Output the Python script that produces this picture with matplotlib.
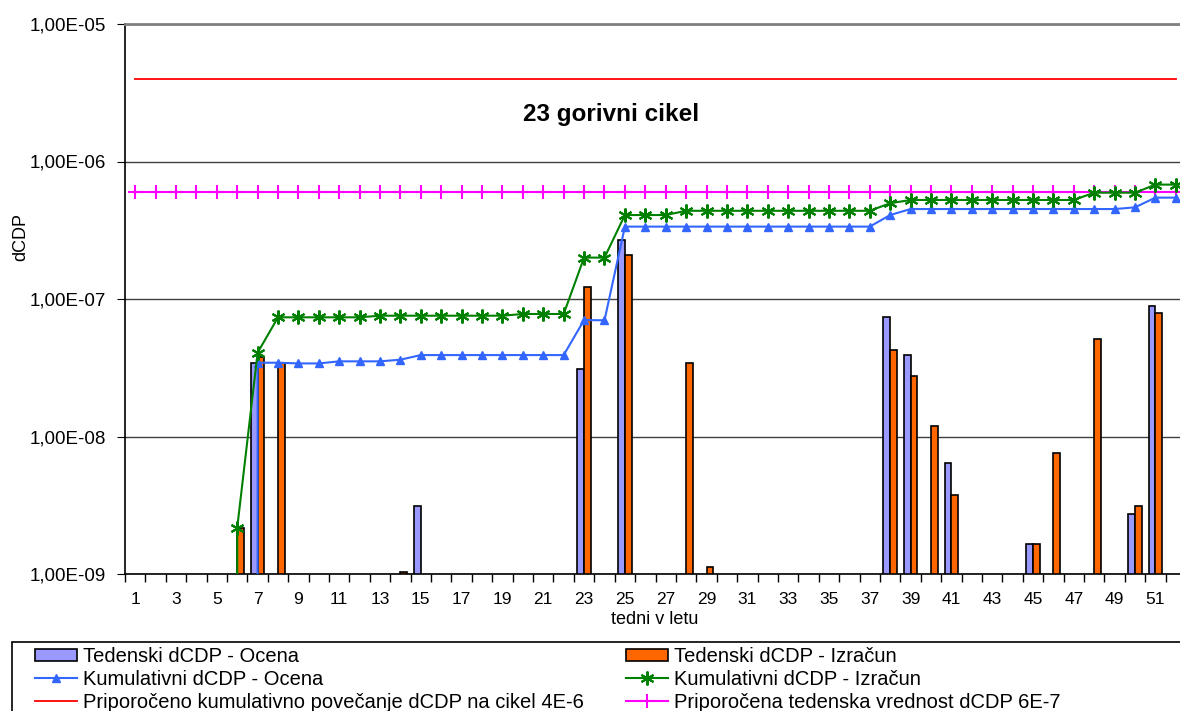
import numpy as np
import matplotlib
matplotlib.use("Agg")
import matplotlib.pyplot as plt
from matplotlib.ticker import FixedLocator, NullLocator, FuncFormatter
from matplotlib.patches import Rectangle, Patch
from matplotlib.lines import Line2D

plt.rcParams['font.family'] = ['Liberation Sans', 'DejaVu Sans']

# weeks of the year
weeks = np.arange(1, 53)

# weekly dCDP - estimate (blue bars)
ocena_weeks = [7, 15, 23, 25, 38, 39, 41, 45, 50, 51]
ocena_vals = [3.44e-8, 3.12e-9, 3.08e-8, 2.69e-7, 7.36e-8, 3.91e-8, 6.38e-9, 1.65e-9, 2.73e-9, 8.89e-8]

# weekly dCDP - calculation (orange bars)
izracun_weeks = [6, 7, 8, 14, 23, 25, 28, 29, 38, 39, 40, 41, 45, 46, 48, 50, 51]
izracun_vals = [2.17e-9, 3.8e-8, 3.4e-8, 1.03e-9, 1.22e-7, 2.1e-7, 3.44e-8, 1.12e-9,
                4.26e-8, 2.77e-8, 1.19e-8, 3.75e-9, 1.65e-9, 7.62e-9, 5.09e-8, 3.12e-9, 7.95e-8]

# cumulative dCDP - estimate, weeks 1..52 (0 = nothing yet)
kum_ocena = [0, 0, 0, 0, 0, 0,
             3.44e-8, 3.44e-8, 3.4e-8, 3.4e-8, 3.52e-8, 3.52e-8, 3.52e-8, 3.62e-8,
             3.91e-8, 3.91e-8, 3.91e-8, 3.91e-8, 3.91e-8, 3.91e-8, 3.91e-8, 3.91e-8,
             7.03e-8, 7.0e-8,
             3.36e-7, 3.36e-7, 3.36e-7, 3.36e-7, 3.36e-7, 3.36e-7, 3.36e-7, 3.36e-7,
             3.36e-7, 3.36e-7, 3.36e-7, 3.36e-7, 3.36e-7,
             4.08e-7, 4.51e-7, 4.51e-7, 4.51e-7, 4.51e-7, 4.51e-7, 4.51e-7, 4.51e-7,
             4.51e-7, 4.51e-7, 4.51e-7, 4.51e-7, 4.64e-7, 5.46e-7, 5.46e-7]

# cumulative dCDP - calculation
kum_izracun = [0, 0, 0, 0, 0,
               2.17e-9, 4.07e-8, 7.36e-8, 7.36e-8, 7.36e-8, 7.36e-8, 7.36e-8,
               7.56e-8, 7.56e-8, 7.56e-8, 7.56e-8, 7.56e-8, 7.56e-8, 7.56e-8,
               7.78e-8, 7.78e-8, 7.78e-8,
               2.0e-7, 2.0e-7, 4.08e-7, 4.08e-7, 4.08e-7,
               4.38e-7, 4.38e-7, 4.38e-7, 4.38e-7, 4.38e-7, 4.38e-7, 4.38e-7, 4.38e-7,
               4.38e-7, 4.38e-7,
               4.97e-7, 5.25e-7, 5.25e-7, 5.25e-7, 5.25e-7, 5.25e-7, 5.25e-7, 5.25e-7,
               5.25e-7, 5.25e-7, 5.93e-7, 5.93e-7, 5.93e-7, 6.79e-7, 6.79e-7]

limit_cycle = 4e-6   # recommended cumulative increase per cycle
limit_week = 6e-7    # recommended weekly value

labels = ['Tedenski dCDP - Ocena', 'Tedenski dCDP - Izračun',
          'Kumulativni dCDP - Ocena', 'Kumulativni dCDP - Izračun',
          'Priporočeno kumulativno povečanje dCDP na cikel 4E-6',
          'Priporočena tedenska vrednost dCDP 6E-7']

c_blue_bar = '#9999FF'
c_orange = '#FF6600'
c_blue_line = '#3366FF'
c_green = '#008000'

fig = plt.figure(figsize=(11.8, 7.11), dpi=100)
ax = fig.add_axes([125 / 1180, 1 - 574 / 711, 1061 / 1180, 550 / 711])

w = 0.33
ax.bar(np.array(ocena_weeks) - w / 2, ocena_vals, width=w, color=c_blue_bar,
       edgecolor='black', linewidth=1.2, zorder=2)
ax.bar(np.array(izracun_weeks) + w / 2, izracun_vals, width=w, color=c_orange,
       edgecolor='black', linewidth=1.2, zorder=2)

ax.plot(weeks, kum_ocena, color=c_blue_line, lw=1.5, marker='^', ms=6, zorder=4)
ax.plot(weeks, kum_izracun, color=c_green, lw=1.5, marker=(6, 2, 0), ms=10,
        mew=1.5, zorder=5)
ax.plot(weeks, [limit_cycle] * len(weeks), color='#FF0000', lw=1.3, zorder=3)
ax.plot(weeks, [limit_week] * len(weeks), color='#FF00FF', lw=1.5, marker='+',
        ms=10, mew=1.5, zorder=3)

ax.set_yscale('log')
ax.set_ylim(1e-9, 1e-5)
ax.set_xlim(0.5, 52.5)
ax.yaxis.set_major_locator(FixedLocator([1e-9, 1e-8, 1e-7, 1e-6, 1e-5]))
ax.yaxis.set_minor_locator(NullLocator())
ax.yaxis.set_major_formatter(FuncFormatter(lambda v, p: ('%.2E' % v).replace('.', ',')))
ax.yaxis.grid(True, color='#404040', lw=1)
ax.set_axisbelow(True)

ax.set_xticks(weeks[::2])
ax.set_xticklabels([str(x) for x in weeks[::2]])
ax.xaxis.set_minor_locator(FixedLocator(np.arange(0.5, 53, 1)))
ax.tick_params(axis='x', which='major', length=0, pad=13, labelsize=12.5)
ax.tick_params(axis='x', which='minor', length=6, direction='out', width=1)
ax.tick_params(axis='y', which='major', length=6, direction='out', pad=8, labelsize=13.5)

ax.spines['right'].set_visible(False)
ax.spines['top'].set_color('#808080')
ax.spines['top'].set_linewidth(2)
ax.spines['left'].set_linewidth(1.2)
ax.spines['bottom'].set_linewidth(1.2)

ax.text(24.3, 2.18e-6, '23 gorivni cikel', fontsize=17.5, fontweight='bold',
        ha='center', va='center')

fig.text(655 / 1180, 1 - 620 / 711, 'tedni v letu', fontsize=13, ha='center', va='center')
fig.text(21 / 1180, 1 - 237 / 711, 'dCDP', fontsize=13, rotation=90, ha='center', va='center')

# legend: drawn in two columns, with one frame around them
h_ocena = Patch(facecolor=c_blue_bar, edgecolor='black', linewidth=1.2)
h_izr = Patch(facecolor=c_orange, edgecolor='black', linewidth=1.2)
h_kum_o = Line2D([], [], color=c_blue_line, lw=1.5, marker='^', ms=6)
h_kum_i = Line2D([], [], color=c_green, lw=1.5, marker=(6, 2, 0), ms=10, mew=1.5)
h_red = Line2D([], [], color='#FF0000', lw=1.3)
h_mag = Line2D([], [], color='#FF00FF', lw=1.5, marker='+', ms=10, mew=1.5)

leg_kw = dict(loc='upper left', frameon=False, fontsize=14.5, borderpad=0, borderaxespad=0,
              handlelength=2.1, handleheight=0.6, handletextpad=0.3, labelspacing=0.2)
fig.legend([h_ocena, h_kum_o, h_red], [labels[0], labels[2], labels[4]],
           bbox_to_anchor=(35 / 1180, 1 - 647 / 711), **leg_kw)
fig.legend([h_izr, h_kum_i, h_mag], [labels[1], labels[3], labels[5]],
           bbox_to_anchor=(626 / 1180, 1 - 647 / 711), **leg_kw)
fig.patches.append(Rectangle((12 / 1180, -0.05), 1.2, 1 - 641.5 / 711 + 0.05,
                             transform=fig.transFigure, fill=False,
                             edgecolor='black', linewidth=1.2))

fig.savefig('out.png', dpi=100)
